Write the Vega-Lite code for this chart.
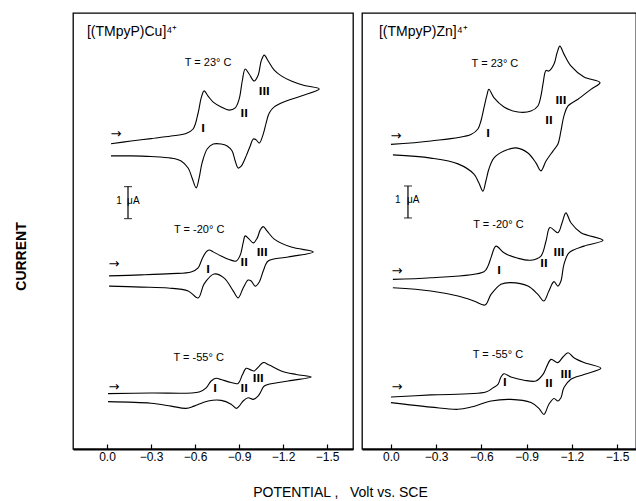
{
  "$schema": "https://vega.github.io/schema/vega-lite/v6.json",
  "padding": {"left": 13, "top": 12, "right": 0, "bottom": 0},
  "bounds": "flush",
  "spacing": 9,
  "config": {
    "view": {"stroke": "black", "strokeWidth": 1.3},
    "font": "Liberation Sans",
    "text": {"font": "Liberation Sans", "color": "black"}
  },
  "datasets": {
    "cu": [
      {"T":"23","k":0,"V":-0.027,"I":9.54},{"T":"23","k":1,"V":-0.164,"I":9.625},{"T":"23","k":2,"V":-0.300,"I":9.70},{"T":"23","k":3,"V":-0.437,"I":9.78},{"T":"23","k":4,"V":-0.539,"I":9.86},{"T":"23","k":5,"V":-0.587,"I":10.0},{"T":"23","k":6,"V":-0.621,"I":10.5},{"T":"23","k":7,"V":-0.642,"I":10.97},{"T":"23","k":8,"V":-0.662,"I":11.19},{"T":"23","k":9,"V":-0.689,"I":11.03},{"T":"23","k":10,"V":-0.724,"I":10.84},{"T":"23","k":11,"V":-0.778,"I":10.69},{"T":"23","k":12,"V":-0.833,"I":10.59},{"T":"23","k":13,"V":-0.874,"I":10.66},{"T":"23","k":14,"V":-0.901,"I":10.94},{"T":"23","k":15,"V":-0.922,"I":11.5},{"T":"23","k":16,"V":-0.942,"I":11.875},{"T":"23","k":17,"V":-0.969,"I":11.72},{"T":"23","k":18,"V":-1.003,"I":11.5},{"T":"23","k":19,"V":-1.031,"I":11.69},{"T":"23","k":20,"V":-1.051,"I":12.125},{"T":"23","k":21,"V":-1.072,"I":12.31},{"T":"23","k":22,"V":-1.099,"I":12.125},{"T":"23","k":23,"V":-1.140,"I":11.84},{"T":"23","k":24,"V":-1.188,"I":11.66},{"T":"23","k":25,"V":-1.256,"I":11.5},{"T":"23","k":26,"V":-1.345,"I":11.36},{"T":"23","k":27,"V":-1.447,"I":11.25},
      {"T":"23","k":28,"V":-1.324,"I":11.03},{"T":"23","k":29,"V":-1.222,"I":10.875},{"T":"23","k":30,"V":-1.140,"I":10.69},{"T":"23","k":31,"V":-1.106,"I":10.5},{"T":"23","k":32,"V":-1.085,"I":10.19},{"T":"23","k":33,"V":-1.065,"I":9.84},{"T":"23","k":34,"V":-1.038,"I":9.56},{"T":"23","k":35,"V":-1.017,"I":9.66},{"T":"23","k":36,"V":-0.997,"I":9.69},{"T":"23","k":37,"V":-0.976,"I":9.47},{"T":"23","k":38,"V":-0.949,"I":9.16},{"T":"23","k":39,"V":-0.915,"I":8.84},{"T":"23","k":40,"V":-0.894,"I":8.78},{"T":"23","k":41,"V":-0.874,"I":9.0},{"T":"23","k":42,"V":-0.853,"I":9.31},{"T":"23","k":43,"V":-0.819,"I":9.47},{"T":"23","k":44,"V":-0.778,"I":9.53},{"T":"23","k":45,"V":-0.724,"I":9.53},{"T":"23","k":46,"V":-0.683,"I":9.375},{"T":"23","k":47,"V":-0.648,"I":8.94},{"T":"23","k":48,"V":-0.628,"I":8.47},{"T":"23","k":49,"V":-0.608,"I":8.16},{"T":"23","k":50,"V":-0.580,"I":8.47},{"T":"23","k":51,"V":-0.553,"I":8.78},{"T":"23","k":52,"V":-0.505,"I":9.0},{"T":"23","k":53,"V":-0.437,"I":9.09},{"T":"23","k":54,"V":-0.300,"I":9.14},{"T":"23","k":55,"V":-0.164,"I":9.16},{"T":"23","k":56,"V":-0.027,"I":9.16},
      {"T":"-20","k":0,"V":-0.014,"I":5.41},{"T":"-20","k":1,"V":-0.232,"I":5.44},{"T":"-20","k":2,"V":-0.437,"I":5.48},{"T":"-20","k":3,"V":-0.573,"I":5.53},{"T":"-20","k":4,"V":-0.621,"I":5.66},{"T":"-20","k":5,"V":-0.648,"I":5.94},{"T":"-20","k":6,"V":-0.676,"I":6.16},{"T":"-20","k":7,"V":-0.696,"I":6.22},{"T":"-20","k":8,"V":-0.724,"I":6.16},{"T":"-20","k":9,"V":-0.778,"I":6.03},{"T":"-20","k":10,"V":-0.833,"I":5.92},{"T":"-20","k":11,"V":-0.881,"I":5.875},{"T":"-20","k":12,"V":-0.908,"I":6.06},{"T":"-20","k":13,"V":-0.928,"I":6.44},{"T":"-20","k":14,"V":-0.942,"I":6.66},{"T":"-20","k":15,"V":-0.969,"I":6.56},{"T":"-20","k":16,"V":-0.997,"I":6.44},{"T":"-20","k":17,"V":-1.024,"I":6.59},{"T":"-20","k":18,"V":-1.044,"I":6.84},{"T":"-20","k":19,"V":-1.065,"I":6.95},{"T":"-20","k":20,"V":-1.092,"I":6.81},{"T":"-20","k":21,"V":-1.140,"I":6.56},{"T":"-20","k":22,"V":-1.256,"I":6.31},{"T":"-20","k":23,"V":-1.406,"I":6.16},
      {"T":"-20","k":24,"V":-1.235,"I":6.0},{"T":"-20","k":25,"V":-1.099,"I":5.875},{"T":"-20","k":26,"V":-1.065,"I":5.56},{"T":"-20","k":27,"V":-1.038,"I":5.22},{"T":"-20","k":28,"V":-1.010,"I":5.09},{"T":"-20","k":29,"V":-0.983,"I":5.25},{"T":"-20","k":30,"V":-0.962,"I":5.28},{"T":"-20","k":31,"V":-0.928,"I":5.03},{"T":"-20","k":32,"V":-0.894,"I":4.72},{"T":"-20","k":33,"V":-0.860,"I":4.94},{"T":"-20","k":34,"V":-0.799,"I":5.34},{"T":"-20","k":35,"V":-0.730,"I":5.47},{"T":"-20","k":36,"V":-0.662,"I":5.16},{"T":"-20","k":37,"V":-0.621,"I":4.72},{"T":"-20","k":38,"V":-0.553,"I":4.94},{"T":"-20","k":39,"V":-0.416,"I":5.03},{"T":"-20","k":40,"V":-0.232,"I":5.06},{"T":"-20","k":41,"V":-0.014,"I":5.09},
      {"T":"-55","k":0,"V":-0.007,"I":1.73},{"T":"-55","k":1,"V":-0.300,"I":1.75},{"T":"-55","k":2,"V":-0.628,"I":1.78},{"T":"-55","k":3,"V":-0.676,"I":1.91},{"T":"-55","k":4,"V":-0.710,"I":2.125},{"T":"-55","k":5,"V":-0.744,"I":2.21},{"T":"-55","k":6,"V":-0.778,"I":2.17},{"T":"-55","k":7,"V":-0.846,"I":2.08},{"T":"-55","k":8,"V":-0.894,"I":2.05},{"T":"-55","k":9,"V":-0.922,"I":2.31},{"T":"-55","k":10,"V":-0.949,"I":2.52},{"T":"-55","k":11,"V":-0.976,"I":2.48},{"T":"-55","k":12,"V":-1.003,"I":2.44},{"T":"-55","k":13,"V":-1.038,"I":2.59},{"T":"-55","k":14,"V":-1.065,"I":2.70},{"T":"-55","k":15,"V":-1.106,"I":2.625},{"T":"-55","k":16,"V":-1.188,"I":2.44},{"T":"-55","k":17,"V":-1.290,"I":2.33},{"T":"-55","k":18,"V":-1.392,"I":2.25},
      {"T":"-55","k":19,"V":-1.235,"I":2.125},{"T":"-55","k":20,"V":-1.072,"I":1.97},{"T":"-55","k":21,"V":-1.051,"I":1.81},{"T":"-55","k":22,"V":-1.031,"I":1.66},{"T":"-55","k":23,"V":-0.997,"I":1.55},{"T":"-55","k":24,"V":-0.962,"I":1.60},{"T":"-55","k":25,"V":-0.928,"I":1.5},{"T":"-55","k":26,"V":-0.901,"I":1.34},{"T":"-55","k":27,"V":-0.881,"I":1.27},{"T":"-55","k":28,"V":-0.846,"I":1.40},{"T":"-55","k":29,"V":-0.778,"I":1.52},{"T":"-55","k":30,"V":-0.689,"I":1.5},{"T":"-55","k":31,"V":-0.594,"I":1.34},{"T":"-55","k":32,"V":-0.539,"I":1.27},{"T":"-55","k":33,"V":-0.437,"I":1.34},{"T":"-55","k":34,"V":-0.300,"I":1.43},{"T":"-55","k":35,"V":-0.007,"I":1.48}
    ],
    "zn": [
      {"T":"23","k":0,"V":0.0,"I":9.52},{"T":"23","k":1,"V":-0.265,"I":9.625},{"T":"23","k":2,"V":-0.531,"I":9.83},{"T":"23","k":3,"V":-0.577,"I":10.0},{"T":"23","k":4,"V":-0.597,"I":10.25},{"T":"23","k":5,"V":-0.617,"I":10.66},{"T":"23","k":6,"V":-0.637,"I":11.06},{"T":"23","k":7,"V":-0.650,"I":11.24},{"T":"23","k":8,"V":-0.683,"I":10.98},{"T":"23","k":9,"V":-0.750,"I":10.69},{"T":"23","k":10,"V":-0.843,"I":10.53},{"T":"23","k":11,"V":-0.929,"I":10.56},{"T":"23","k":12,"V":-0.975,"I":10.72},{"T":"23","k":13,"V":-0.995,"I":11.03},{"T":"23","k":14,"V":-1.009,"I":11.41},{"T":"23","k":15,"V":-1.029,"I":11.83},{"T":"23","k":16,"V":-1.048,"I":11.81},{"T":"23","k":17,"V":-1.082,"I":12.03},{"T":"23","k":18,"V":-1.102,"I":12.375},{"T":"23","k":19,"V":-1.121,"I":12.59},{"T":"23","k":20,"V":-1.148,"I":12.34},{"T":"23","k":21,"V":-1.194,"I":11.97},{"T":"23","k":22,"V":-1.281,"I":11.625},{"T":"23","k":23,"V":-1.387,"I":11.45},
      {"T":"23","k":24,"V":-1.327,"I":11.24},{"T":"23","k":25,"V":-1.241,"I":10.93},{"T":"23","k":26,"V":-1.175,"I":10.72},{"T":"23","k":27,"V":-1.148,"I":10.41},{"T":"23","k":28,"V":-1.128,"I":9.94},{"T":"23","k":29,"V":-1.108,"I":9.53},{"T":"23","k":30,"V":-1.075,"I":9.31},{"T":"23","k":31,"V":-1.029,"I":9.0},{"T":"23","k":32,"V":-0.995,"I":8.69},{"T":"23","k":33,"V":-0.962,"I":8.94},{"T":"23","k":34,"V":-0.909,"I":9.25},{"T":"23","k":35,"V":-0.829,"I":9.41},{"T":"23","k":36,"V":-0.750,"I":9.31},{"T":"23","k":37,"V":-0.683,"I":9.09},{"T":"23","k":38,"V":-0.650,"I":8.75},{"T":"23","k":39,"V":-0.630,"I":8.375},{"T":"23","k":40,"V":-0.610,"I":8.06},{"T":"23","k":41,"V":-0.584,"I":8.31},{"T":"23","k":42,"V":-0.551,"I":8.59},{"T":"23","k":43,"V":-0.445,"I":8.91},{"T":"23","k":44,"V":-0.265,"I":9.09},{"T":"23","k":45,"V":-0.013,"I":9.19},
      {"T":"-20","k":0,"V":-0.013,"I":5.30},{"T":"-20","k":1,"V":-0.265,"I":5.35},{"T":"-20","k":2,"V":-0.617,"I":5.54},{"T":"-20","k":3,"V":-0.644,"I":5.72},{"T":"-20","k":4,"V":-0.664,"I":5.98},{"T":"-20","k":5,"V":-0.697,"I":6.34},{"T":"-20","k":6,"V":-0.750,"I":6.13},{"T":"-20","k":7,"V":-0.843,"I":5.96},{"T":"-20","k":8,"V":-0.929,"I":5.90},{"T":"-20","k":9,"V":-0.995,"I":6.03},{"T":"-20","k":10,"V":-1.029,"I":6.5},{"T":"-20","k":11,"V":-1.055,"I":6.92},{"T":"-20","k":12,"V":-1.108,"I":6.76},{"T":"-20","k":13,"V":-1.135,"I":7.06},{"T":"-20","k":14,"V":-1.161,"I":7.38},{"T":"-20","k":15,"V":-1.194,"I":7.07},{"T":"-20","k":16,"V":-1.261,"I":6.76},{"T":"-20","k":17,"V":-1.407,"I":6.52},
      {"T":"-20","k":18,"V":-1.281,"I":6.34},{"T":"-20","k":19,"V":-1.181,"I":6.13},{"T":"-20","k":20,"V":-1.148,"I":5.77},{"T":"-20","k":21,"V":-1.128,"I":5.25},{"T":"-20","k":22,"V":-1.108,"I":5.09},{"T":"-20","k":23,"V":-1.082,"I":5.23},{"T":"-20","k":24,"V":-1.048,"I":4.94},{"T":"-20","k":25,"V":-1.015,"I":4.625},{"T":"-20","k":26,"V":-0.975,"I":4.83},{"T":"-20","k":27,"V":-0.909,"I":5.09},{"T":"-20","k":28,"V":-0.796,"I":5.20},{"T":"-20","k":29,"V":-0.730,"I":5.15},{"T":"-20","k":30,"V":-0.664,"I":4.83},{"T":"-20","k":31,"V":-0.624,"I":4.5},{"T":"-20","k":32,"V":-0.551,"I":4.625},{"T":"-20","k":33,"V":-0.445,"I":4.78},{"T":"-20","k":34,"V":-0.265,"I":4.94},{"T":"-20","k":35,"V":-0.013,"I":5.04},
      {"T":"-55","k":0,"V":0.0,"I":1.625},{"T":"-55","k":1,"V":-0.265,"I":1.69},{"T":"-55","k":2,"V":-0.630,"I":1.78},{"T":"-55","k":3,"V":-0.677,"I":1.91},{"T":"-55","k":4,"V":-0.710,"I":2.02},{"T":"-55","k":5,"V":-0.730,"I":2.25},{"T":"-55","k":6,"V":-0.750,"I":2.35},{"T":"-55","k":7,"V":-0.796,"I":2.25},{"T":"-55","k":8,"V":-0.883,"I":2.15},{"T":"-55","k":9,"V":-0.962,"I":2.125},{"T":"-55","k":10,"V":-1.009,"I":2.33},{"T":"-55","k":11,"V":-1.035,"I":2.59},{"T":"-55","k":12,"V":-1.062,"I":2.80},{"T":"-55","k":13,"V":-1.108,"I":2.70},{"T":"-55","k":14,"V":-1.141,"I":2.875},{"T":"-55","k":15,"V":-1.175,"I":3.01},{"T":"-55","k":16,"V":-1.214,"I":2.85},{"T":"-55","k":17,"V":-1.281,"I":2.70},{"T":"-55","k":18,"V":-1.393,"I":2.52},
      {"T":"-55","k":19,"V":-1.281,"I":2.33},{"T":"-55","k":20,"V":-1.194,"I":2.18},{"T":"-55","k":21,"V":-1.148,"I":1.92},{"T":"-55","k":22,"V":-1.128,"I":1.60},{"T":"-55","k":23,"V":-1.108,"I":1.5},{"T":"-55","k":24,"V":-1.082,"I":1.58},{"T":"-55","k":25,"V":-1.048,"I":1.40},{"T":"-55","k":26,"V":-1.015,"I":1.08},{"T":"-55","k":27,"V":-0.982,"I":1.27},{"T":"-55","k":28,"V":-0.929,"I":1.45},{"T":"-55","k":29,"V":-0.796,"I":1.55},{"T":"-55","k":30,"V":-0.664,"I":1.5},{"T":"-55","k":31,"V":-0.531,"I":1.31},{"T":"-55","k":32,"V":-0.445,"I":1.24},{"T":"-55","k":33,"V":-0.265,"I":1.31},{"T":"-55","k":34,"V":0.0,"I":1.45}
    ]
  },
  "hconcat": [
    {
      "width": 280,
      "height": 436,
      "encoding": {
        "x": {"field": "V", "type": "quantitative",
          "scale": {"domain": [-1.677, 0.232], "reverse": true, "nice": false, "zero": false},
          "axis": {"values": [0, -0.3, -0.6, -0.9, -1.2, -1.5], "format": ".1f", "grid": false,
            "domainColor": "black", "domainWidth": 2, "tickColor": "black", "tickSize": -5, "tickWidth": 1.2,
            "labelFontSize": 12, "labelColor": "black", "labelPadding": 7, "labelFont": "Liberation Sans",
            "title": "POTENTIAL ,\u00a0\u00a0\u00a0Volt vs. SCE", "titleX": 267, "titleY": 43, "titleAlign": "center", "titleBaseline": "middle",
            "titleFontSize": 14, "titleFontWeight": "normal", "titleColor": "black", "titleFont": "Liberation Sans"}},
        "y": {"field": "I", "type": "quantitative",
          "scale": {"domain": [0, 13.625], "nice": false, "zero": false},
          "axis": {"labels": false, "ticks": false, "domain": false, "grid": false,
            "title": "CURRENT", "titleX": -52, "titleY": 243, "titleAngle": -90, "titleAlign": "center", "titleBaseline": "middle",
            "titleFontSize": 14, "titleFontWeight": "bold", "titleColor": "black", "titleFont": "Liberation Sans"}}
      },
      "layer": [
        {"data": {"name": "cu"},
         "mark": {"type": "line", "color": "black", "strokeWidth": 1.1, "interpolate": "catmull-rom"},
         "encoding": {"detail": {"field": "T"}, "order": {"field": "k", "type": "quantitative"}}},
        {"data": {"values": [{"V": -0.689, "I": 12.06, "t": "T = 23° C"}, {"V": -0.628, "I": 6.84, "t": "T = -20° C"}, {"V": -0.625, "I": 2.84, "t": "T = -55° C"}]},
         "mark": {"type": "text", "fontSize": 11, "align": "center", "baseline": "middle"},
         "encoding": {"text": {"field": "t"}}},
        {"data": {"values": [{"V": -0.655, "I": 10.0, "t": "I"}, {"V": -0.935, "I": 10.47, "t": "II"}, {"V": -1.072, "I": 11.16, "t": "III"},
                             {"V": -0.689, "I": 5.59, "t": "I"}, {"V": -0.935, "I": 5.81, "t": "II"}, {"V": -1.058, "I": 6.125, "t": "III"},
                             {"V": -0.737, "I": 1.875, "t": "I"}, {"V": -0.935, "I": 1.875, "t": "II"}, {"V": -1.031, "I": 2.19, "t": "III"}]},
         "mark": {"type": "text", "fontSize": 11, "font": "DejaVu Sans Condensed, Liberation Sans", "fontWeight": "bold", "align": "center", "baseline": "middle"},
         "encoding": {"text": {"field": "t"}}},
        {"data": {"values": [{"V": -0.061, "I": 9.85}, {"V": -0.048, "I": 5.78}, {"V": -0.048, "I": 1.95}]},
         "mark": {"type": "text", "text": "→", "font": "DejaVu Sans", "fontSize": 13, "align": "center", "baseline": "middle"}},
        {"data": {"values": [{"V": -0.143, "I": 7.2, "I2": 8.2}]},
         "mark": {"type": "rule", "color": "black", "strokeWidth": 1.2},
         "encoding": {"y2": {"field": "I2"}}},
        {"data": {"values": [{"V": -0.143, "I": 7.2}, {"V": -0.143, "I": 8.2}]},
         "mark": {"type": "tick", "orient": "horizontal", "size": 8, "thickness": 1.2, "color": "black"}},
        {"data": {"values": [{"V": -0.082, "I": 7.75, "t": "1"}]},
         "mark": {"type": "text", "fontSize": 10, "align": "center", "baseline": "middle"},
         "encoding": {"text": {"field": "t"}}},
        {"data": {"values": [{"V": -0.137, "I": 7.75, "t": "μA"}]},
         "mark": {"type": "text", "fontSize": 10, "align": "left", "baseline": "middle"},
         "encoding": {"text": {"field": "t"}}},
        {"data": {"values": [{"V": 0.137, "I": 13.03, "t": "[(TMpyP)Cu]⁴⁺"}]},
         "mark": {"type": "text", "fontSize": 14, "align": "left", "baseline": "middle"},
         "encoding": {"text": {"field": "t"}}}
      ]
    },
    {
      "width": 274,
      "height": 436,
      "encoding": {
        "x": {"field": "V", "type": "quantitative",
          "scale": {"domain": [-1.626, 0.192], "reverse": true, "nice": false, "zero": false},
          "axis": {"values": [0, -0.3, -0.6, -0.9, -1.2, -1.5], "format": ".1f", "grid": false,
            "domainColor": "black", "domainWidth": 2, "tickColor": "black", "tickSize": -5, "tickWidth": 1.2,
            "labelFontSize": 12, "labelColor": "black", "labelPadding": 7, "labelFont": "Liberation Sans", "title": null}},
        "y": {"field": "I", "type": "quantitative",
          "scale": {"domain": [0, 13.625], "nice": false, "zero": false},
          "axis": null}
      },
      "layer": [
        {"data": {"name": "zn"},
         "mark": {"type": "line", "color": "black", "strokeWidth": 1.1, "interpolate": "catmull-rom"},
         "encoding": {"detail": {"field": "T"}, "order": {"field": "k", "type": "quantitative"}}},
        {"data": {"values": [{"V": -0.690, "I": 12.03, "t": "T = 23° C"}, {"V": -0.713, "I": 7.0, "t": "T = -20° C"}, {"V": -0.710, "I": 2.94, "t": "T = -55° C"}]},
         "mark": {"type": "text", "fontSize": 11, "align": "center", "baseline": "middle"},
         "encoding": {"text": {"field": "t"}}},
        {"data": {"values": [{"V": -0.644, "I": 9.84, "t": "I"}, {"V": -1.048, "I": 10.25, "t": "II"}, {"V": -1.128, "I": 10.875, "t": "III"},
                             {"V": -0.717, "I": 5.56, "t": "I"}, {"V": -1.015, "I": 5.78, "t": "II"}, {"V": -1.115, "I": 6.125, "t": "III"},
                             {"V": -0.756, "I": 2.07, "t": "I"}, {"V": -1.048, "I": 2.04, "t": "II"}, {"V": -1.161, "I": 2.31, "t": "III"}]},
         "mark": {"type": "text", "fontSize": 11, "font": "DejaVu Sans Condensed, Liberation Sans", "fontWeight": "bold", "align": "center", "baseline": "middle"},
         "encoding": {"text": {"field": "t"}}},
        {"data": {"values": [{"V": -0.033, "I": 9.78}, {"V": -0.040, "I": 5.56}, {"V": -0.040, "I": 1.94}]},
         "mark": {"type": "text", "text": "→", "font": "DejaVu Sans", "fontSize": 13, "align": "center", "baseline": "middle"}},
        {"data": {"values": [{"V": -0.113, "I": 7.22, "I2": 8.22}]},
         "mark": {"type": "rule", "color": "black", "strokeWidth": 1.2},
         "encoding": {"y2": {"field": "I2"}}},
        {"data": {"values": [{"V": -0.113, "I": 7.22}, {"V": -0.113, "I": 8.22}]},
         "mark": {"type": "tick", "orient": "horizontal", "size": 8, "thickness": 1.2, "color": "black"}},
        {"data": {"values": [{"V": -0.046, "I": 7.78, "t": "1"}]},
         "mark": {"type": "text", "fontSize": 10, "align": "center", "baseline": "middle"},
         "encoding": {"text": {"field": "t"}}},
        {"data": {"values": [{"V": -0.106, "I": 7.78, "t": "μA"}]},
         "mark": {"type": "text", "fontSize": 10, "align": "left", "baseline": "middle"},
         "encoding": {"text": {"field": "t"}}},
        {"data": {"values": [{"V": 0.080, "I": 13.03, "t": "[(TMpyP)Zn]⁴⁺"}]},
         "mark": {"type": "text", "fontSize": 14, "align": "left", "baseline": "middle"},
         "encoding": {"text": {"field": "t"}}}
      ]
    }
  ]
}
